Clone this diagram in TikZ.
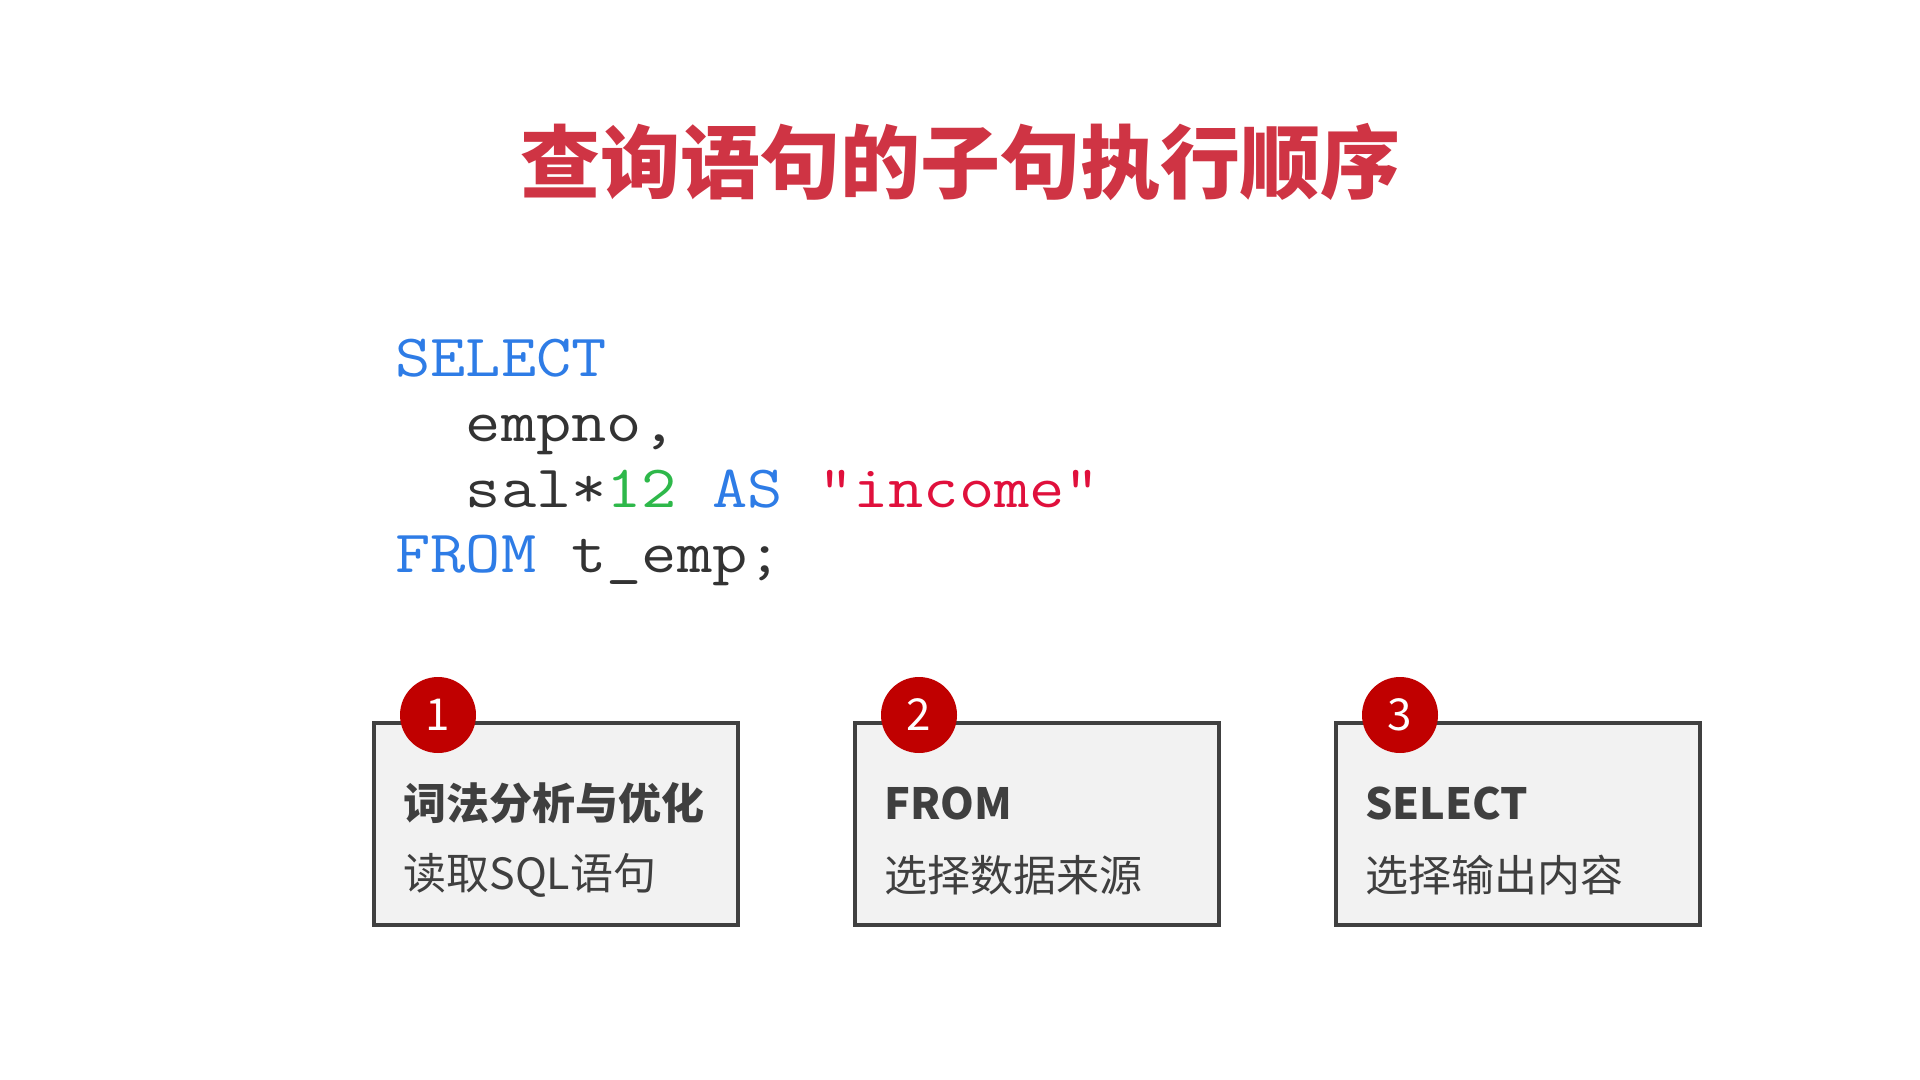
\documentclass[tikz,border=0pt]{standalone}
\usepackage{fontspec}
\newfontfamily\cjk{Noto Sans CJK SC}
\newfontfamily\codefont{Latin Modern Mono}[FakeStretch=1.14]
\usetikzlibrary{positioning,calc}
\definecolor{titlered}{HTML}{CF3444}
\definecolor{badgered}{HTML}{C00000}
\definecolor{boxgray}{HTML}{F2F2F2}
\definecolor{edgegray}{HTML}{404040}
\definecolor{textgray}{HTML}{3F3F3F}
\definecolor{kwblue}{HTML}{2E7CE6}
\definecolor{numgreen}{HTML}{2EB84A}
\definecolor{strred}{HTML}{E0103C}
\definecolor{codegray}{HTML}{333333}

\begin{document}
\begin{tikzpicture}
      [x=0.5pt, y=-0.5pt, node distance=240.5pt,
       stagebox/.style={draw=edgegray, line width=2pt, fill=boxgray, minimum width=182pt, minimum height=101pt, inner sep=0pt},
       badge/.style={circle, fill=badgered, text=white, minimum size=38pt, inner sep=0pt, font=\cjk\fontsize{22}{22}\selectfont},
       head/.style={anchor=west, inner sep=0pt, text=textgray, font=\cjk\bfseries\fontsize{21.5}{21.5}\selectfont},
       sub/.style={anchor=west, inner sep=0pt, text=textgray, font=\cjk\fontsize{21.5}{21.5}\selectfont},
       code/.style={anchor=base west, inner sep=0pt, text=codegray, font=\codefont\fontsize{30}{30}\selectfont}]
      \path[use as bounding box] (0,0) rectangle (1920,1080);

      \node[inner sep=0pt, text=titlered, font=\cjk\bfseries\fontsize{40}{40}\selectfont] (title) at (960,162) {查询语句的子句执行顺序};

      % the query
      \node[code] (c1) at (395,376) {\color{kwblue}SELECT};
      \node[code] (c2) at (395,441) {\ \ empno,};
      \node[code] (c3) at (395,507) {\ \ sal*{\color{numgreen}12} {\color{kwblue}AS} {\color{strred}"income"}};
      \node[code] (c4) at (395,572) {{\color{kwblue}FROM} t\_emp;};

      % the three steps
      \node[stagebox] (b1) at (556,824) {};
      \node[stagebox, right of=b1] (b2) {};
      \node[stagebox, right of=b2] (b3) {};

      \node[badge] (n1) at ($(b1.north west)+(66,-6)$) {1};
      \node[badge] (n2) at ($(b2.north west)+(66,-6)$) {2};
      \node[badge] (n3) at ($(b3.north west)+(66,-6)$) {3};

      \node[head] (h1) at ($(b1.north west)+(31,82)$) {词法分析与优化};
      \node[sub] (s1) at ($(b1.north west)+(31,154)$) {读取SQL语句};
      \node[head] (h2) at ($(b2.north west)+(31,82)$) {FROM};
      \node[sub] (s2) at ($(b2.north west)+(31,154)$) {选择数据来源};
      \node[head] (h3) at ($(b3.north west)+(31,82)$) {SELECT};
      \node[sub] (s3) at ($(b3.north west)+(31,154)$) {选择输出内容};
   \end{tikzpicture}
\end{document}
